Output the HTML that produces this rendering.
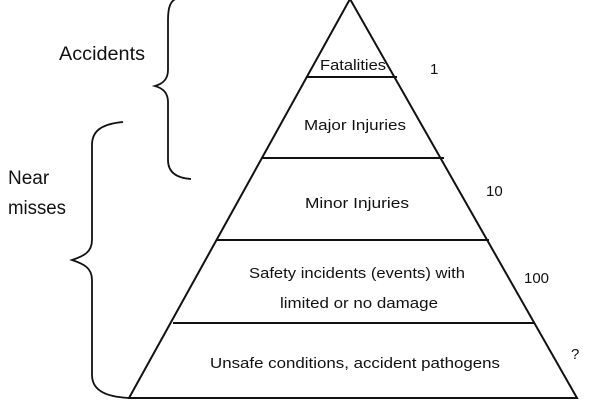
<!DOCTYPE html>
<html><head><style>
html,body{margin:0;padding:0;background:#fff;width:600px;height:400px;overflow:hidden}
text{font-family:"Liberation Sans",sans-serif;fill:#111}
</style></head><body>
<svg width="600" height="400" viewBox="0 0 600 400" xmlns="http://www.w3.org/2000/svg">
<g stroke="#111" stroke-width="2" fill="none">
<polygon points="350,-1 129,398 577,398"/>
<line x1="306" y1="77" x2="397" y2="77"/>
<line x1="262" y1="158" x2="444" y2="158"/>
<line x1="217" y1="240" x2="489" y2="240"/>
<line x1="173" y1="323" x2="535" y2="323"/>
<path d="M178,-2 C170,0 168,8 168,20 L168,70 C168,80 162,84 155,86 C162,88 168,92 168,102 L168,160 C168,172 176,178 191,179" stroke-width="1.8"/>
<path d="M123,122 C100,124 92,132 92,145 L92,240 C92,252 84,256 72,260 C84,264 92,268 92,280 L92,375 C92,390 105,397 130,398" stroke-width="1.8"/>
</g>
<g font-size="19">
<text x="59" y="60" textLength="86" lengthAdjust="spacingAndGlyphs">Accidents</text>
<text x="8" y="184">Near</text>
<text x="8" y="214" textLength="58" lengthAdjust="spacingAndGlyphs">misses</text>
</g>
<g font-size="15" text-anchor="middle">
<text x="353" y="70" textLength="66" lengthAdjust="spacingAndGlyphs">Fatalities</text>
<text x="355" y="130" textLength="102" lengthAdjust="spacingAndGlyphs">Major Injuries</text>
<text x="357" y="208" textLength="104" lengthAdjust="spacingAndGlyphs">Minor Injuries</text>
<text x="357" y="278" textLength="216" lengthAdjust="spacingAndGlyphs">Safety incidents (events) with</text>
<text x="359" y="308" textLength="158" lengthAdjust="spacingAndGlyphs">limited or no damage</text>
<text x="355" y="368" textLength="290" lengthAdjust="spacingAndGlyphs">Unsafe conditions, accident pathogens</text>
</g>
<g font-size="15">
<text x="430" y="74">1</text>
<text x="486" y="196">10</text>
<text x="524" y="283">100</text>
<text x="571" y="359">?</text>
</g>
</svg>
</body></html>
